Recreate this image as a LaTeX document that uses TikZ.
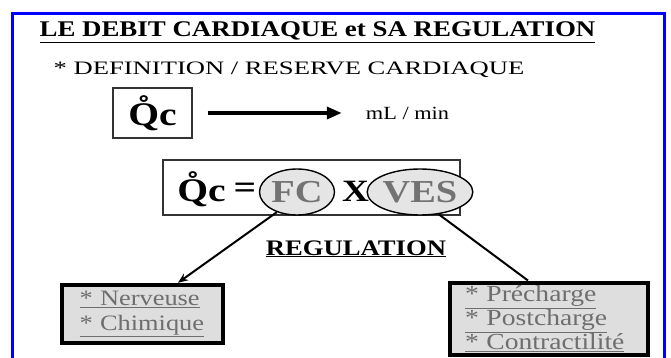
\documentclass[tikz,border=0pt]{standalone}
\usepackage{fontspec}
\setmainfont{Liberation Serif}[FakeStretch=1.2]
\newfontfamily\deffont{Liberation Serif}[FakeStretch=1.4]
\usetikzlibrary{shapes.geometric, arrows.meta}
\definecolor{cadreblue}{RGB}{0,0,255}
\definecolor{textgray}{RGB}{110,110,110}

\begin{document}
\begin{tikzpicture}[x=1pt, y=-1pt,
				boite/.style={draw=black!80, line width=1.1pt, inner sep=0pt},
				grosse/.style={font=\fontsize{33}{33}\selectfont\bfseries, inner sep=0pt},
				bulle/.style={ellipse, draw=black, line width=1.4pt, fill=black!10, inner sep=0pt,
					text=black!55, font=\fontsize{32}{32}\selectfont\bfseries},
				regbox/.style={draw=black, line width=4.5pt, fill=black!13, text=textgray, align=left},
				fleche/.style={-{Triangle[length=15pt, width=12pt]}, line width=3.5pt},
				lien/.style={-{Stealth[length=10pt, width=8pt]}, line width=2pt}]
				%Cadre
				\useasboundingbox (0,0) rectangle (671,358);
				\draw[cadreblue, line width=3pt] (12,366) -- (12,14) -- (664,14) -- (664,366);
				% Titres
				\node[anchor=base, inner sep=0pt, font=\fontsize{22.4}{24}\selectfont\bfseries] (titre) at (317.5,37)
					{\underline{LE DEBIT CARDIAQUE et SA REGULATION}};
				\node[anchor=base, inner sep=0pt, font=\fontsize{19}{20}\deffont] (defin) at (289,75)
					{* DEFINITION / RESERVE CARDIAQUE};
				% Qc -> mL/min
				\node[boite, grosse, minimum width=79pt, minimum height=50pt] (qbox) at (152.5,113) {\r{Q}c};
				\node[anchor=base, inner sep=0pt, font=\fontsize{18.6}{20}\selectfont] (debit) at (407.5,120) {mL / min};
				\draw[fleche] ([xshift=15pt]qbox.east) -- ([xshift=-24pt]qbox.east -| debit.west);
				% Qc = FC X VES
				\node[boite, minimum width=297pt, minimum height=55pt] (eqbox) at (311.5,187.5) {};
				\node[grosse] (qc) at (201.5,189) {\r{Q}c};
				\node[grosse] (egal) at (245,191) {=};
				\node[bulle, minimum width=75pt, minimum height=46pt] (fc) at (297,192) {FC};
				\node[grosse, font=\fontsize{31}{31}\selectfont\bfseries] (fois) at (355.5,191) {X};
				\node[bulle, minimum width=85pt, minimum height=46pt] (ves) at (420,192) {VES};
				\node[anchor=base, inner sep=0pt, font=\fontsize{22.2}{24}\selectfont\bfseries] (regul) at (356,255)
					{\underline{REGULATION}};
				% Regulation
				\node[regbox, text width=126pt, inner xsep=17.5pt, minimum height=58pt,
					font=\fontsize{22}{25}\selectfont] (nbox) at (142.5,314)
					{\underline{* Nerveuse}\\ \underline{* Chimique}};
				\node[regbox, text width=168pt, inner xsep=15pt, minimum height=72pt,
					font=\fontsize{23}{24}\selectfont, line width=4pt] (rbox) at (549,319)
					{\underline{* Précharge}\\ \underline{* Postcharge}\\ \underline{* Contractilité}};
				\draw[lien] (fc.225) -- ([xshift=35.5pt]nbox.north);
				\draw[line width=2pt] (ves.-50) -- ([xshift=-21pt]rbox.north);
			\end{tikzpicture}
\end{document}
